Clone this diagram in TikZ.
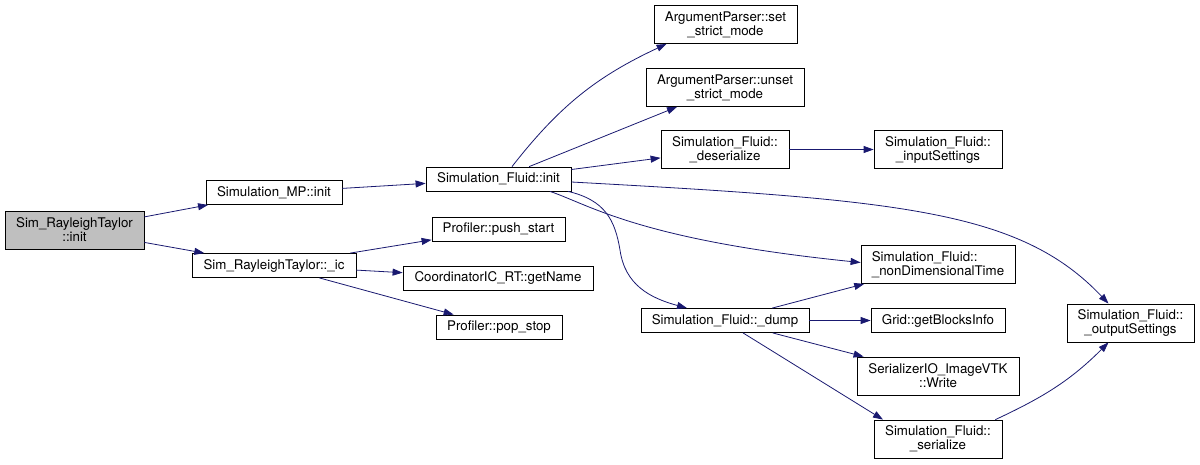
\documentclass[tikz,border=0pt]{standalone}
\usepackage{fontspec}
\setmainfont{TeX Gyre Heros}
\usetikzlibrary{arrows.meta}
\definecolor{navyline}{HTML}{191970}
\definecolor{rootgray}{HTML}{BFBFBF}

\begin{document}
\begin{tikzpicture}[
    x=1pt, y=-1pt,
    >={Triangle[length=10pt, width=7pt]},
    call/.style={->, draw=navyline, line width=0.8pt},
    fn/.style={draw, fill=white, line width=0.8pt, inner sep=0pt,
      minimum height=24, align=center, font=\fontsize{13.3}{14}\selectfont},
    fn2/.style={fn, minimum height=38}
  ]
  \useasboundingbox (0,0) rectangle (1200,464);

  % caller and first level
  \node[fn2, fill=rootgray, minimum width=139] (root) at (74.5,230) {Sim\_RayleighTaylor\\::init};
  \node[fn, minimum width=136] (mp) at (274,192.5) {Simulation\_MP::init};
  \node[fn, minimum width=164] (ic) at (274,265.5) {Sim\_RayleighTaylor::\_ic};

  % second level
  \node[fn, minimum width=145] (finit) at (498.5,179) {Simulation\_Fluid::init};
  \node[fn, minimum width=133] (push) at (498.5,229) {Profiler::push\_start};
  \node[fn, minimum width=190] (getname) at (498,278) {CoordinatorIC\_RT::getName};
  \node[fn, minimum width=126] (pop) at (499,327) {Profiler::pop\_stop};

  % third level
  \node[fn2, minimum width=143] (setsm) at (725.5,24.5) {ArgumentParser::set\\\_strict\_mode};
  \node[fn2, minimum width=158] (unsetsm) at (725,87.5) {ArgumentParser::unset\\\_strict\_mode};
  \node[fn2, minimum width=128] (deser) at (725,149.5) {Simulation\_Fluid::\\\_deserialize};
  \node[fn, minimum width=168] (dump) at (725,320.5) {Simulation\_Fluid::\_dump};

  % fourth level
  \node[fn2, minimum width=128] (inputs) at (938,149.5) {Simulation\_Fluid::\\\_inputSettings};
  \node[fn2, minimum width=154, align=left] (nondim) at (938,264.5) {Simulation\_Fluid::\\\_nonDimensionalTime};
  \node[fn, minimum width=134] (grid) at (938,320.5) {Grid::getBlocksInfo};
  \node[fn2, minimum width=162] (serio) at (938,376) {SerializerIO\_ImageVTK\\::Write};
  \node[fn2, minimum width=128] (serial) at (938,439) {Simulation\_Fluid::\\\_serialize};

  % last level
  \node[fn2, minimum width=127] (outs) at (1130.5,323) {Simulation\_Fluid::\\\_outputSettings};

  % calls
  \draw[call] (root) -- (mp);
  \draw[call] (root) -- (ic);
  \draw[call] (mp) -- (finit);
  \draw[call] (ic) -- (push);
  \draw[call] (ic) -- (getname);
  \draw[call] (ic) -- (pop);
  \draw[call] ([xshift=13.5pt]finit.north) to[out=52, in=205] ([xshift=13pt]setsm.south west);
  \draw[call] (finit) -- (unsetsm);
  \draw[call] (finit) -- (deser);
  \draw[call] (deser) -- (inputs);
  \draw[call] ([yshift=-3pt]finit.east) .. controls (900,200) and (1020,210) .. ([xshift=-22pt]outs.north);
  \draw[call] ([xshift=51.5pt]finit.south) .. controls (590,205) and (640,240) .. ([yshift=2pt]nondim.west);
  \draw[call] ([xshift=69.5pt]finit.south) .. controls (605,200) and (615,220) .. (620,250)
    .. controls (625,285) and (650,298) .. ([xshift=-38pt]dump.north);
  \draw[call] (dump) -- (nondim);
  \draw[call] (dump) -- (grid);
  \draw[call] (dump) -- (serio);
  \draw[call] ([xshift=18pt]dump.south) -- ([xshift=-55pt]serial.north);
  \draw[call] ([xshift=-7pt]serial.north east) to[out=25, in=225] ([xshift=-22pt]outs.south);

\end{tikzpicture}
\end{document}
